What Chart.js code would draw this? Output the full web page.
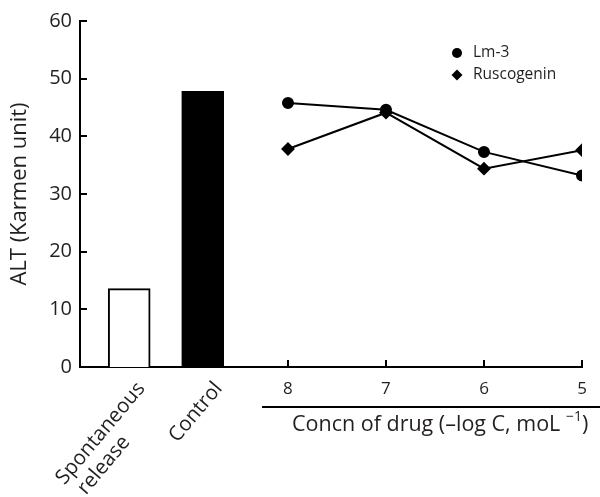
<!DOCTYPE html>
<html>
<head>
<meta charset="utf-8">
<script src="https://cdn.jsdelivr.net/npm/chart.js@4.4.0/dist/chart.umd.min.js"></script>
<style>
  body { margin: 0; background: #fff; }
</style>
</head>
<body>
<canvas id="grafico" width="600" height="497"></canvas>
<script>
const categorias = ['Spontaneous release', 'Control'];
const valoresControle = [13.6, 47.8];
const doses = [8, 7, 6, 5];
const valoresLm3 = [45.8, 44.6, 37.3, 33.2];
const valoresRuscogenina = [37.8, 44.1, 34.4, 37.6];

// onde as barras ficam no eixo x (em unidades de -log C)
const posicaoBarras = [9.62, 8.87];
const deslocRotulos = [12, 16];
const fonte = "'Open Sans', 'Noto Sans', sans-serif";
const corTexto = '#231f20';

const extras = {
  id: 'extras',
  afterDraw(chart) {
    const ctx = chart.ctx;
    const area = chart.chartArea;
    const sx = chart.scales.x;
    const sy = chart.scales.y;
    ctx.save();
    ctx.strokeStyle = '#000';
    ctx.lineWidth = 2;
    // ticks para dentro
    sy.ticks.forEach(t => {
      const y = Math.round(sy.getPixelForValue(t.value));
      ctx.beginPath();
      ctx.moveTo(area.left, y);
      ctx.lineTo(area.left + 7, y);
      ctx.stroke();
    });
    sx.ticks.forEach(t => {
      const x = Math.round(sx.getPixelForValue(t.value));
      ctx.beginPath();
      ctx.moveTo(x, area.bottom);
      ctx.lineTo(x, area.bottom - 7);
      ctx.stroke();
    });

    // rotulos das barras inclinados
    ctx.fillStyle = corTexto;
    ctx.font = '20.5px ' + fonte;
    categorias.forEach((nome, i) => {
      const x = sx.getPixelForValue(posicaoBarras[i]) + deslocRotulos[i];
      const y = area.bottom + 18;
      const partes = nome.split(' ');
      ctx.save();
      ctx.translate(x, y);
      ctx.rotate(-50 * Math.PI / 180);
      ctx.textBaseline = 'middle';
      ctx.textAlign = 'right';
      ctx.fillText(partes[0], 0, 0);
      if (partes[1]) {
        const w = ctx.measureText(partes[0]).width;
        ctx.textAlign = 'left';
        ctx.fillText(partes[1], -w + 6, 23);
      }
      ctx.restore();
    });

    // linha e titulo da concentracao
    ctx.beginPath();
    ctx.moveTo(262, 407);
    ctx.lineTo(600, 407);
    ctx.stroke();
    ctx.font = '21.5px ' + fonte;
    ctx.textAlign = 'left';
    ctx.textBaseline = 'alphabetic';
    const txt = 'Concn of drug (\u2013log C, moL ';
    let px = 292;
    ctx.fillText(txt, px, 431);
    px += ctx.measureText(txt).width;
    ctx.font = '14px ' + fonte;
    ctx.fillText('\u22121', px, 421);
    px += ctx.measureText('\u22121').width;
    ctx.font = '21.5px ' + fonte;
    ctx.fillText(')', px, 431);

    // legenda
    ctx.font = '15.5px ' + fonte;
    ctx.textBaseline = 'middle';
    const itens = [
      { label: 'Lm-3', estilo: 'circle', y: 53 },
      { label: 'Ruscogenin', estilo: 'rectRot', y: 75 }
    ];
    itens.forEach(it => {
      ctx.fillStyle = '#000';
      ctx.beginPath();
      if (it.estilo === 'circle') {
        ctx.arc(457, it.y, 5, 0, Math.PI * 2);
      } else {
        ctx.moveTo(457, it.y - 5.5);
        ctx.lineTo(462.5, it.y);
        ctx.lineTo(457, it.y + 5.5);
        ctx.lineTo(451.5, it.y);
        ctx.closePath();
      }
      ctx.fill();
      ctx.fillStyle = corTexto;
      ctx.fillText(it.label, 473, it.y);
    });
    ctx.restore();
  }
};

const ctx = document.getElementById('grafico').getContext('2d');
new Chart(ctx, {
  type: 'bar',
  data: {
    datasets: [
      {
        type: 'line',
        label: 'Lm-3',
        data: doses.map((d, i) => ({ x: d, y: valoresLm3[i] })),
        borderColor: '#000',
        backgroundColor: '#000',
        borderWidth: 2,
        pointStyle: 'circle',
        pointRadius: 5,
        tension: 0
      },
      {
        type: 'line',
        label: 'Ruscogenin',
        data: doses.map((d, i) => ({ x: d, y: valoresRuscogenina[i] })),
        borderColor: '#000',
        backgroundColor: '#000',
        borderWidth: 2,
        pointStyle: 'rectRot',
        pointRadius: 5.5,
        tension: 0
      },
      {
        label: 'ALT',
        data: categorias.map((c, i) => ({ x: posicaoBarras[i], y: valoresControle[i] })),
        backgroundColor: ['#ffffff', '#000000'],
        borderColor: '#000',
        borderWidth: 2,
        barThickness: 42
      }
    ]
  },
  options: {
    responsive: false,
    animation: false,
    layout: { padding: { left: 0, right: 18, top: 21, bottom: 0 } },
    plugins: {
      legend: { display: false },
      tooltip: { enabled: false }
    },
    scales: {
      x: {
        type: 'linear',
        reverse: true,
        offset: false,
        min: 5,
        max: 10.122,
        grid: { display: false, drawTicks: false, offset: false },
        border: { display: true, color: '#000', width: 2 },
        afterBuildTicks: (scale) => {
          scale.ticks = doses.map(v => ({ value: v }));
        },
        afterFit: (scale) => { scale.height = 130; },
        ticks: {
          padding: 12,
          color: corTexto,
          font: { family: fonte, size: 17 },
          maxRotation: 0,
          callback: (v) => String(v)
        }
      },
      y: {
        min: 0,
        max: 60,
        grid: { display: false, drawTicks: false },
        border: { display: true, color: '#000', width: 2 },
        afterFit: (scale) => { scale.width = 80; },
        ticks: {
          stepSize: 10,
          padding: 8,
          color: corTexto,
          font: { family: fonte, size: 20 }
        },
        title: {
          display: true,
          text: 'ALT (Karmen unit)',
          color: corTexto,
          font: { family: fonte, size: 22 },
          padding: { top: 7, bottom: 0 }
        }
      }
    }
  },
  plugins: [extras]
});
</script>
</body>
</html>
